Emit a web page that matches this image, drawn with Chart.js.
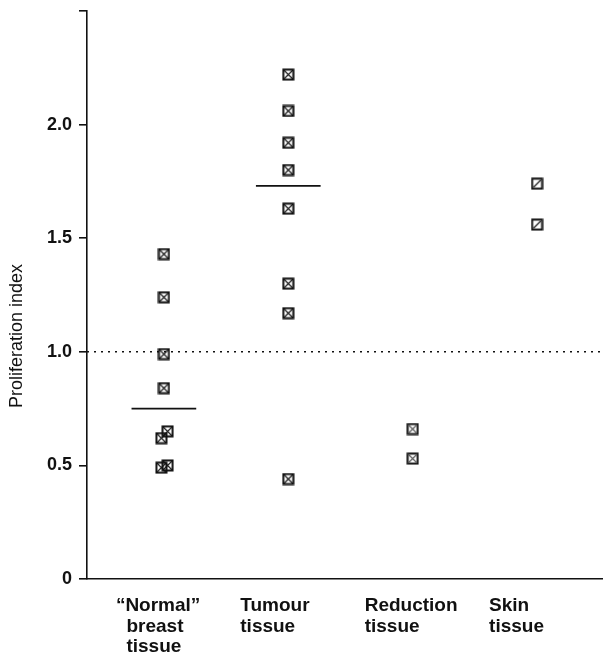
<!DOCTYPE html>
<html>
<head>
<meta charset="utf-8">
<script src="https://cdn.jsdelivr.net/npm/chart.js@4/dist/chart.umd.min.js"></script>
<style>
  html, body { margin: 0; padding: 0; background: #fff; }
  #wrap { width: 603px; height: 653px; }
</style>
</head>
<body>
<div id="wrap"><canvas id="prolifChart" width="603" height="653"></canvas></div>
<script>
// ================= DATA =================
const categories = [
  ["\u201cNormal\u201d", "  breast", "  tissue"],
  ["Tumour", "tissue"],
  ["Reduction", "tissue"],
  ["Skin", "tissue"]
];
const yTitle = "Proliferation index";
const yTicks = [0, 0.5, 1.0, 1.5, 2.0, 2.5];
const yMax = 2.5;

// "Normal" breast tissue (slightly staggered where markers overlap)
const normalVals = [1.43, 1.24, 0.99, 0.84, 0.65, 0.62, 0.50, 0.49];
const normalPos  = [1, 1, 1, 1, 1.03, 0.98, 1.03, 0.98];
const tumourVals = [2.22, 2.06, 1.92, 1.80, 1.63, 1.30, 1.17, 0.44];
const reductionVals = [0.66, 0.53];
const skinVals = [1.74, 1.56];

// group means (horizontal bars) and reference level
const normalMean = 0.75;
const tumourMean = 1.73;
const referenceLevel = 1.0;

// ================= STYLE =================
const ink = "#111";
const meanHalf = 0.26;
const xMin = 0.382, xMax = 4.53;
const fontFamily = '"Liberation Sans", Arial, sans-serif';

// boxed markers drawn once on small canvases
function makeMarker(kind) {
  const s = 13;
  const c = document.createElement("canvas");
  c.width = s; c.height = s;
  const g = c.getContext("2d");
  g.strokeStyle = ink;
  g.lineWidth = 2;
  g.strokeRect(1.5, 1.5, s - 3, s - 3);
  g.lineWidth = 1.1;
  g.beginPath();
  if (kind === "cross" || kind === "half") {
    g.moveTo(2, 2); g.lineTo(s - 2, s - 2);
    g.moveTo(s - 2, 2); g.lineTo(2, s - 2);
  } else {
    g.moveTo(3, s - 3); g.lineTo(s - 3, 3);
  }
  if (kind === "half") g.strokeStyle = "#555";
  g.stroke();
  return c;
}
const crossBox = makeMarker("cross");
const halfBox = makeMarker("half");
const slashBox = makeMarker("slash");

function pts(vals, pos) {
  return vals.map((v, i) => ({ x: Array.isArray(pos) ? pos[i] : pos, y: v }));
}
function meanLine(pos, m) {
  return [{ x: pos - meanHalf, y: m }, { x: pos + meanHalf, y: m }];
}

// y axis title, drawn a little below the middle as in the original
const yTitlePlugin = {
  id: "yTitle",
  afterDraw(chart) {
    const { ctx, chartArea } = chart;
    ctx.save();
    ctx.translate(17, (chartArea.top + chartArea.bottom) / 2 + 41);
    ctx.rotate(-Math.PI / 2);
    ctx.font = "18px " + fontFamily;
    ctx.fillStyle = ink;
    ctx.textAlign = "center";
    ctx.textBaseline = "middle";
    ctx.fillText(yTitle, 0, 0);
    ctx.restore();
  }
};

// ================= CHART =================
new Chart(document.getElementById("prolifChart"), {
  type: "scatter",
  data: {
    datasets: [
      { data: pts(normalVals, normalPos), pointStyle: crossBox },
      { data: pts(tumourVals, 2), pointStyle: crossBox },
      { data: pts(reductionVals, 3), pointStyle: halfBox },
      { data: pts(skinVals, 4), pointStyle: slashBox },
      { type: "line", data: meanLine(1, normalMean), borderColor: ink, borderWidth: 1.8, pointRadius: 0 },
      { type: "line", data: meanLine(2, tumourMean), borderColor: ink, borderWidth: 1.8, pointRadius: 0 },
      { type: "line", data: [{ x: xMin, y: referenceLevel }, { x: xMax, y: referenceLevel }],
        borderColor: ink, borderWidth: 1.5, borderDash: [2, 5], pointRadius: 0 }
    ]
  },
  options: {
    responsive: false,
    animation: false,
    layout: { autoPadding: false, padding: { top: 11, right: 0, bottom: 0, left: 0 } },
    plugins: {
      legend: { display: false },
      tooltip: { enabled: false }
    },
    scales: {
      x: {
        type: "linear",
        min: xMin,
        max: xMax,
        grid: { display: false },
        border: { color: ink, width: 1.6 },
        afterBuildTicks: scale => {
          scale.ticks = categories.map((c, i) => ({ value: i + 1 }));
        },
        afterFit: scale => {
          scale.height = 74;
          scale.paddingLeft = 0;
          scale.paddingRight = 0;
        },
        ticks: {
          autoSkip: false,
          maxRotation: 0,
          align: "start",
          labelOffset: -48,
          padding: 8,
          color: ink,
          font: { family: fontFamily, size: 19, weight: "bold", lineHeight: 1.1 },
          callback: value => categories[value - 1]
        }
      },
      y: {
        min: 0,
        max: yMax,
        grid: { drawOnChartArea: false, drawTicks: true, tickLength: 8, color: ink, lineWidth: 1.6 },
        border: { color: ink, width: 1.6 },
        afterBuildTicks: scale => {
          scale.ticks = yTicks.map(v => ({ value: v }));
        },
        afterFit: scale => {
          scale.width = 87;
          scale.paddingTop = 0;
          scale.paddingBottom = 0;
        },
        ticks: {
          padding: 7,
          color: ink,
          font: { family: fontFamily, size: 18, weight: "bold" },
          callback: value => value === yMax ? "" : (value === 0 ? "0" : value.toFixed(1))
        }
      }
    }
  },
  plugins: [yTitlePlugin]
});
</script>
</body>
</html>
